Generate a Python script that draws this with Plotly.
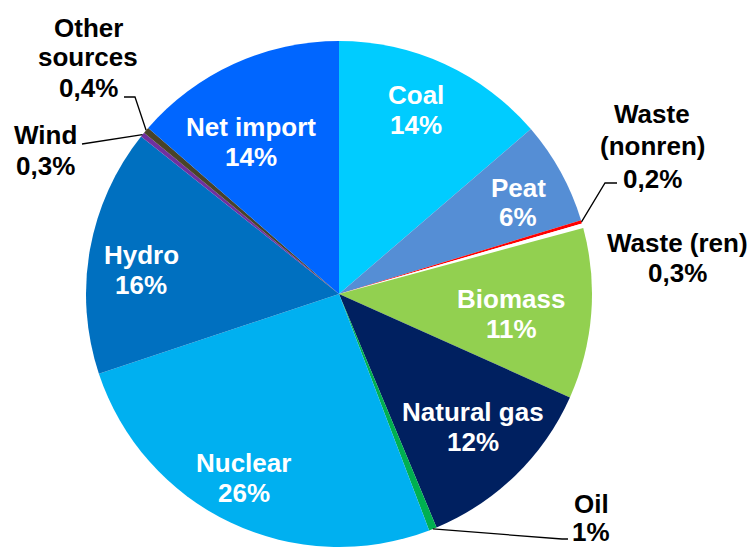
import math
import plotly.graph_objects as go

# ---- data ----
sources = ["Coal", "Peat", "Waste (nonren)", "Waste (ren)", "Biomass", "Natural gas",
           "Oil", "Nuclear", "Hydro", "Wind", "Other sources", "Net import"]
shares = [13.7, 6.6, 0.2, 0.3, 10.9, 12.0, 0.5, 25.7, 15.8, 0.3, 0.4, 13.6]
share_labels = ["14%", "6%", "0,2%", "0,3%", "11%", "12%", "1%", "26%", "16%", "0,3%", "0,4%", "14%"]
colors = ["#00CCFF", "#558ED5", "#FF0000", "#FFFFFF", "#92D050", "#002060",
          "#00B050", "#00B0F0", "#0070C0", "#7030A0", "#494429", "#0066FF"]

W, H = 750, 547
R = 253
CX, CY = 339, H - R  # pie centre in pixels
TOP = CY - R

def px(x):
    return x / W

def py(y):
    return 1 - y / H

fig = go.Figure(go.Pie(
    labels=sources, values=shares, sort=False, direction="clockwise", rotation=0,
    marker=dict(colors=colors, line=dict(width=0)),
    textinfo="none", hoverinfo="label+percent", showlegend=False,
    domain=dict(x=[px(CX - R), px(CX + R)], y=[0, py(TOP)]),
))

# label layout: name lines + value line, with line centres (pixels)
label_layout = {
    "Coal": (["Coal"], 416, [94, 124], "white"),
    "Peat": (["Peat"], 518, [187, 216], "white"),
    "Biomass": (["Biomass"], 511, [298, 328], "white"),
    "Natural gas": (["Natural gas"], 473, [411, 441], "white"),
    "Nuclear": (["Nuclear"], 244, [462, 492], "white"),
    "Hydro": (["Hydro"], 141, [254, 284], "white"),
    "Net import": (["Net import"], 251, [126, 156], "white"),
    "Other sources": (["Other", "sources"], 88, [27, 56, 87], "black"),
    "Wind": (["Wind"], 45, [134, 165], "black"),
    "Waste (nonren)": (["Waste", "(nonren)"], 652, [113, 145, 178], "black"),
    "Waste (ren)": (["Waste (ren)"], 677, [242, 272], "black"),
    "Oil": (["Oil"], 591, [503, 531], "black"),
}

annotations = []
for name, lab in zip(sources, share_labels):
    lines, x, ys, col = label_layout[name]
    for text, y in zip(lines + [lab], ys):
        annotations.append(dict(
            text=text, x=px(x), y=py(y + 1), xref="paper", yref="paper",
            xanchor="center", yanchor="middle", showarrow=False,
            font=dict(family="Liberation Sans, Arial, sans-serif", size=26,
                      color=col, weight="bold"),
        ))

# slice mid-angle edge points (computed from the data)
total = sum(shares)
cum = 0
edge = {}
for name, v in zip(sources, shares):
    mid = (cum + v / 2) / total * 2 * math.pi
    edge[name] = (CX + R * math.sin(mid), CY - R * math.cos(mid))
    cum += v

leaders = {
    "Other sources": [(124, 97), (135, 97)],
    "Wind": [(82, 144)],
    "Waste (nonren)": [(617, 183), (605, 183)],
    "Oil": [(568, 539), (562, 539)],
}
shapes = []
for name, pts in leaders.items():
    ex, ey = edge[name]
    allp = pts + [(ex, ey)]
    path = "M " + " L ".join(f"{px(a):.5f},{py(b):.5f}" for a, b in allp)
    shapes.append(dict(type="path", path=path, xref="paper", yref="paper",
                       line=dict(color="black", width=1.3)))

fig.update_layout(
    width=W, height=H, margin=dict(l=0, r=0, t=0, b=0),
    paper_bgcolor="white", plot_bgcolor="white",
    annotations=annotations, shapes=shapes,
)

fig.write_html("out.html", config={"displayModeBar": False},
               post_script="document.body.style.margin='0px';document.body.style.overflow='hidden';")
